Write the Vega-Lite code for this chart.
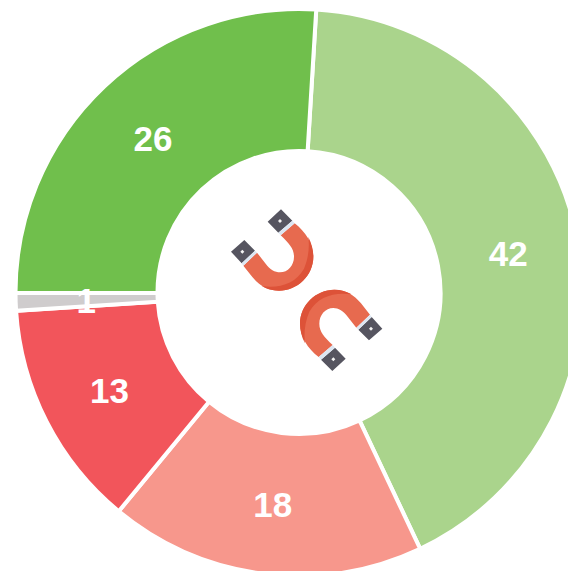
{
"$schema":"https://vega.github.io/schema/vega-lite/v6.json",
"width":568,"height":571,"padding":0,"autosize":{"type":"none"},
"background":"white",
"config":{"view":{"stroke":null}},
"datasets":{"slices":[
{"i":1,"share":42},{"i":2,"share":18},{"i":3,"share":13},{"i":4,"share":1},{"i":5,"share":26}]},
"layer":[
{"data":{"name":"slices"},
"mark":{"type":"arc","x":299,"y":292.5,"innerRadius":141.5,"outerRadius":283.5,"stroke":"white","strokeWidth":4},
"encoding":{
"theta":{"field":"share","type":"quantitative","stack":true,"scale":{"range":[0.061,6.344]}},
"order":{"field":"i","type":"ordinal"},
"color":{"field":"i","type":"nominal","legend":null,"scale":{"domain":[1,2,3,4,5],"range":["#aad48c","#f7978c","#f2555b","#cfcccd","#70bf4c"]}}}},
{"data":{"name":"slices"},
"mark":{"type":"text","x":299,"y":292,"radius":213,"dy":3,"font":"Liberation Sans","fontWeight":"bold","fontSize":35,"fill":"white","align":"center","baseline":"middle"},
"encoding":{
"theta":{"field":"share","type":"quantitative","stack":true,"scale":{"range":[0.061,6.344]}},
"order":{"field":"i","type":"ordinal"},
"text":{"field":"share","type":"quantitative"}}},
{"data":{"values":[{"part":"body"}]},
"mark":{"type":"point","x":299,"y":292,"filled":true,"opacity":1,"size":0.4444,"fill":"#e76a4f","shape":"M-167,-79 L-126,-118 L-100,-85 C-88,-68 -72,-59 -57,-59 C-33,-59 -15,-80 -15,-106 C-15,-130 -30,-146 -55,-170 L-13,-206 C20,-180 43,-145 43,-106 C43,-50 -5,-4 -60,-4 C-95,-4 -120,-20 -140,-45 Z M213,68 L172,107 L146,74 C134,57 118,48 103,48 C79,48 61,69 61,95 C61,119 76,135 101,159 L59,195 C26,169 3,134 3,95 C3,39 51,-7 106,-7 C141,-7 166,9 186,34 Z"}},
{"data":{"values":[{"part":"shadow"}]},
"mark":{"type":"point","x":299,"y":292,"filled":true,"opacity":1,"size":0.4444,"fill":"#dd5238","shape":"M28,-165 C38,-145 43,-125 43,-106 C43,-50 -5,-4 -60,-4 C-80,-4 -97,-9 -112,-18 C-60,-10 -10,-25 15,-70 C28,-100 32,-135 28,-165 Z M18,154 C8,134 3,114 3,95 C3,39 51,-7 106,-7 C126,-7 143,-2 158,7 C106,-1 56,14 31,59 C18,89 14,124 18,154 Z"}},
{"data":{"values":[{"part":"poles"}]},
"mark":{"type":"point","x":299,"y":292,"filled":true,"opacity":1,"size":0.4444,"fill":"#565560","shape":"M-204,-121 L-164,-156 L-132,-124 L-172,-86 Z M-94,-211 L-54,-248 L-20,-214 L-62,-178 Z M250,110 L210,145 L178,113 L218,75 Z M140,200 L100,237 L66,203 L108,167 Z"}},
{"data":{"values":[{"part":"bands"}]},
"mark":{"type":"point","x":299,"y":292,"filled":true,"opacity":1,"size":0.4444,"fill":"#dce6f2","shape":"M-172,-86 L-132,-124 L-126,-118 L-167,-79 Z M-62,-178 L-20,-214 L-13,-206 L-55,-170 Z M218,75 L178,113 L172,107 L213,68 Z M108,167 L66,203 L59,195 L101,159 Z"}},
{"data":{"values":[{"part":"dots"}]},
"mark":{"type":"point","x":299,"y":292,"filled":true,"opacity":1,"size":0.4444,"fill":"#f4f4f4","shape":"M-176,-121 L-170,-127 L-164,-121 L-170,-115 Z M-63,-213 L-57,-219 L-51,-213 L-57,-207 Z M210,110 L216,104 L222,110 L216,116 Z M97,202 L103,196 L109,202 L103,208 Z"}}
]}
